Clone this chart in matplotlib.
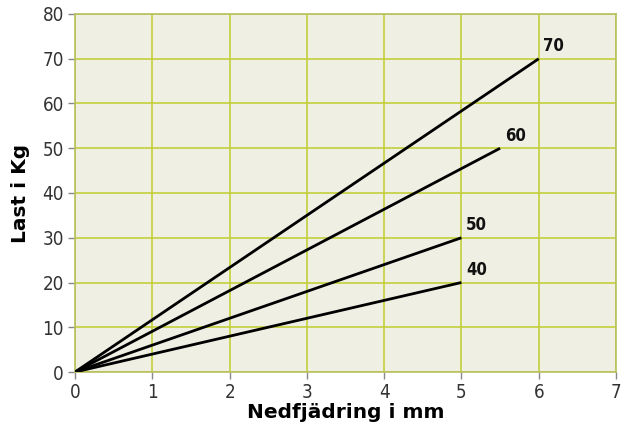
import matplotlib.pyplot as plt
from matplotlib import font_manager

# spring curves: end point of each straight line from origin
labels = ["70", "60", "50", "40"]
x_end = [6.0, 5.5, 5.0, 5.0]
y_end = [70, 50, 30, 20]

x_ticks = [0, 1, 2, 3, 4, 5, 6, 7]
y_ticks = [0, 10, 20, 30, 40, 50, 60, 70, 80]

# condensed face for the numbers, like the original print
cond = font_manager.FontProperties(family="DejaVu Sans", stretch="condensed", size=13.5)
cond_bold = font_manager.FontProperties(family="DejaVu Sans", stretch="condensed",
                                        weight="bold", size=12)
label_font = font_manager.FontProperties(family="DejaVu Sans", weight="bold", size=14.5)

grid_col = "#c3cf3c"
bg_col = "#efefe3"

fig = plt.figure(figsize=(6.24, 4.29), dpi=100)
ax = fig.add_axes([75 / 624, 1 - 372 / 429, 541 / 624, 358 / 429])
ax.set_facecolor(bg_col)

for lab, xe, ye in zip(labels, x_end, y_end):
    ax.plot([0, xe], [0, ye], color="black", lw=2.0, solid_capstyle="butt", zorder=3)
    ax.text(xe + 0.06, ye + 0.8, lab, fontproperties=cond_bold,
            ha="left", va="bottom", color="#111111")

ax.set_xlim(0, 7)
ax.set_ylim(0, 80)
ax.set_xticks(x_ticks)
ax.set_yticks(y_ticks)
ax.grid(True, color=grid_col, lw=1.2, zorder=1)
ax.set_axisbelow(True)
for s in ax.spines.values():
    s.set_color("#b8c060")
    s.set_linewidth(1.2)

ax.tick_params(length=5, width=1, color="#888888", labelcolor="#333333", pad=3)
for t in ax.get_xticklabels() + ax.get_yticklabels():
    t.set_fontproperties(cond)

ax.set_xlabel("Nedfjädring i mm", fontproperties=label_font, labelpad=1)
ax.set_ylabel("Last i Kg", fontproperties=label_font, labelpad=9)

fig.savefig("out.png", dpi=100, facecolor="white")
